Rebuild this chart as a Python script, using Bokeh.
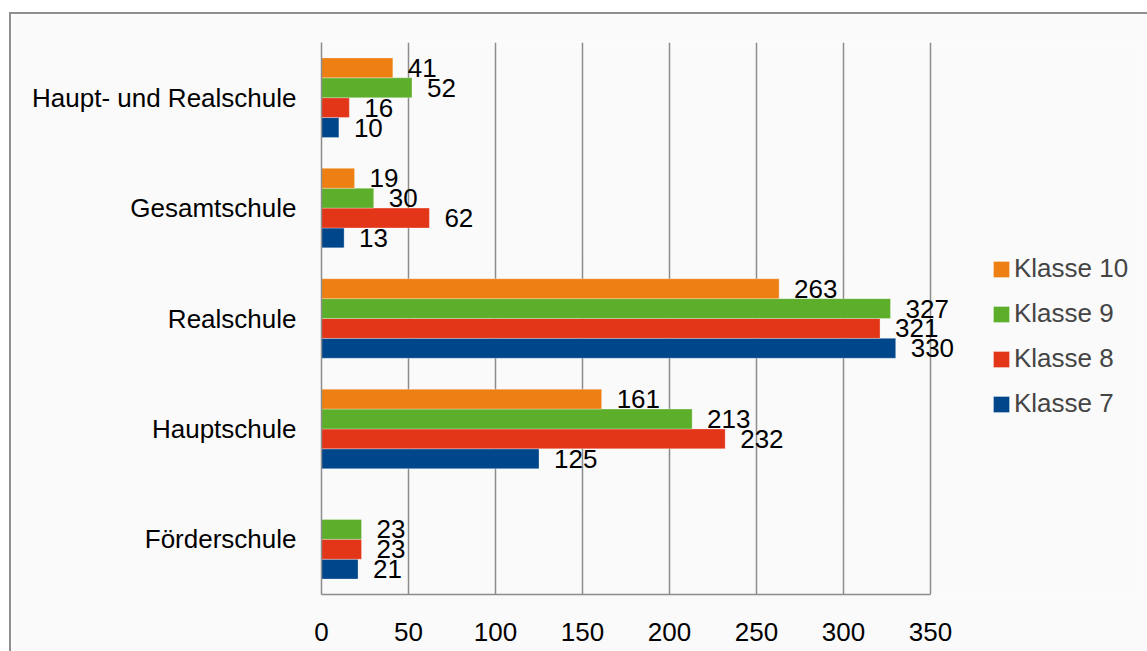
from bokeh.plotting import figure
from bokeh.models import (ColumnDataSource, FactorRange, Range1d, LabelSet, Legend,
                          LegendItem, FixedTicker)
from bokeh.core.properties import value
from bokeh.transform import dodge
from bokeh.embed import file_html
from bokeh.resources import INLINE

# ---- data (bottom -> top) ----
categories = ["Förderschule", "Hauptschule", "Realschule", "Gesamtschule", "Haupt- und Realschule"]
series_names = ["Klasse 7", "Klasse 8", "Klasse 9", "Klasse 10"]
klasse7 = [21, 125, 330, 13, 10]
klasse8 = [23, 232, 321, 62, 16]
klasse9 = [23, 213, 327, 30, 52]
klasse10 = [None, 161, 263, 19, 41]
x_ticks = [0, 50, 100, 150, 200, 250, 300, 350]
x_max = 350

series_values = [klasse7, klasse8, klasse9, klasse10]
colors = ["#00468B", "#E33619", "#5DAE2B", "#EE7F13"]
offsets = [-0.27, -0.09, 0.09, 0.27]

FONT = "Liberation Sans"
FS = "26px"
GRID = "#8c8c8c"

AXIS_PX = 609          # pixel length of the 0..350 axis
FRAME_W = 819          # frame extends to the right to hold labels and legend

p = figure(frame_width=FRAME_W, frame_height=552,
           y_range=FactorRange(*categories, range_padding=0),
           x_range=Range1d(0, x_max * FRAME_W / AXIS_PX), output_backend="svg",
           toolbar_location=None,
           background_fill_color="#fafafa", border_fill_color="#fafafa",
           min_border_left=310, min_border_top=28, min_border_bottom=57, min_border_right=9)
p.styles = {"margin-left": "9px", "margin-top": "12px",
            "border-left": "2px solid #8f8f8f", "border-top": "2px solid #8f8f8f"}
p.outline_line_color = None

renderers = []
for name, vals, col, off in zip(series_names, series_values, colors, offsets):
    cats = [c for c, v in zip(categories, vals) if v is not None]
    vv = [v for v in vals if v is not None]
    src = ColumnDataSource(dict(cat=cats, val=vv, txt=[str(v) for v in vv]))
    r = p.hbar(y=dodge("cat", off, range=p.y_range), right="val", left=0, height=0.18,
               source=src, fill_color=col, line_color="white", line_width=0.6, line_alpha=0.5)
    renderers.append((name, r))
    p.add_layout(LabelSet(x="val", y=dodge("cat", off, range=p.y_range), text="txt", source=src,
                          x_offset=15, y_offset=0, text_baseline="middle", text_align="left",
                          text_font=value(FONT), text_font_size=value(FS), text_color="black"))

p.xaxis.ticker = FixedTicker(ticks=x_ticks)
p.xaxis.bounds = (0, x_max)
for ax in (p.xaxis[0], p.yaxis[0]):
    ax.major_label_text_font = FONT
    ax.major_label_text_font_size = FS
    ax.major_label_text_color = "black"
    ax.axis_line_color = GRID
    ax.axis_line_width = 1.5
    ax.major_tick_line_color = None
    ax.minor_tick_line_color = None
p.xaxis.major_label_standoff = 22
p.yaxis.major_label_standoff = 19

p.xgrid.grid_line_color = GRID
p.xgrid.grid_line_width = 1.5
p.ygrid.grid_line_color = None

items = [LegendItem(label=n, renderers=[r]) for n, r in reversed(renderers)]
legend = Legend(items=items, location=(670, 175), border_line_color=None,
                background_fill_alpha=0, label_text_font=FONT, label_text_font_size=FS,
                glyph_width=20, glyph_height=20, label_standoff=3, spacing=14,
                label_height=27, padding=0, margin=0)
p.add_layout(legend, "center")

open("out.html", "w").write(file_html(p, INLINE))
